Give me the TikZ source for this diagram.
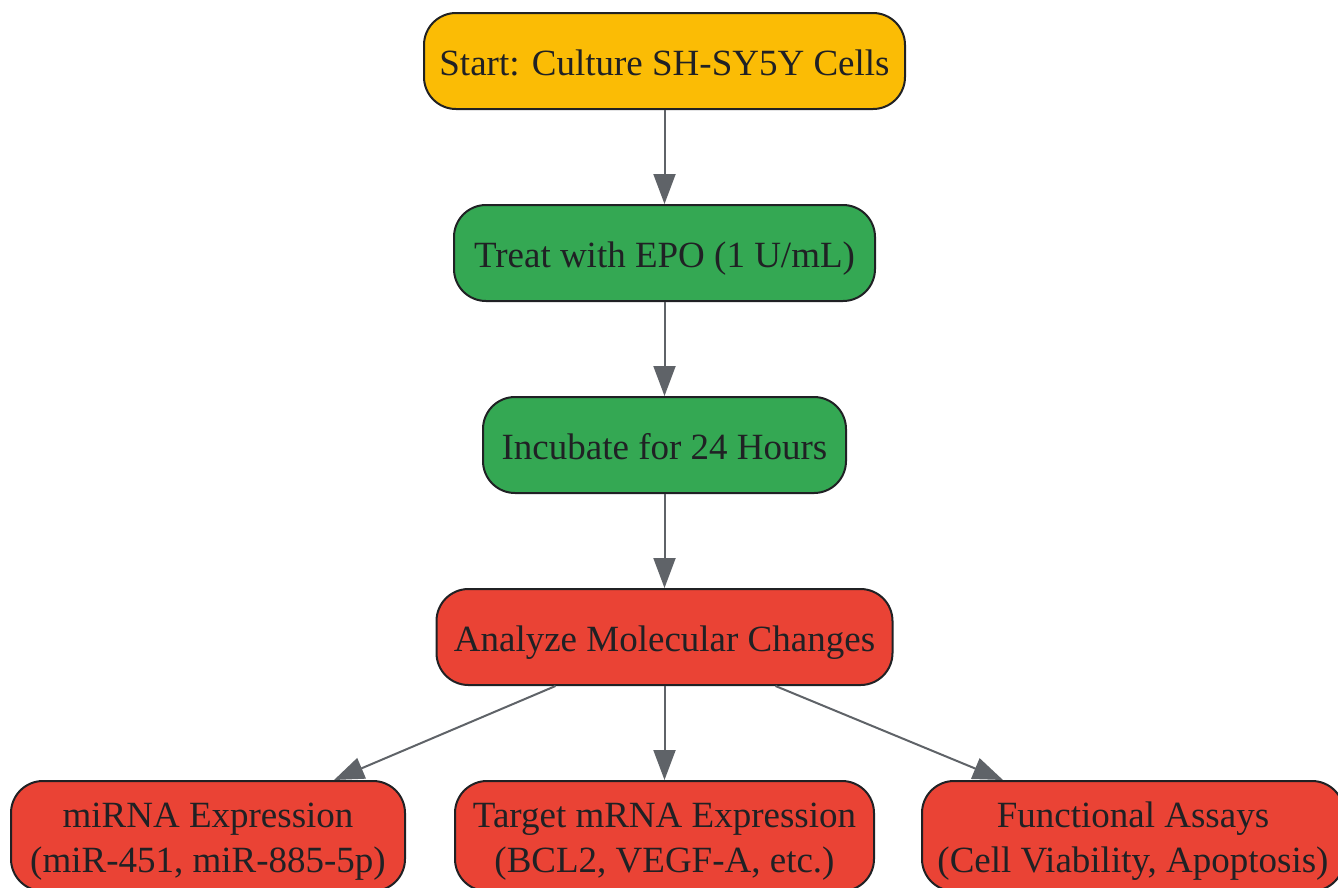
\documentclass[tikz,border=0pt]{standalone}
\usepackage{fontspec}
\setmainfont{Liberation Serif}
\usetikzlibrary{arrows.meta,calc}
\definecolor{yel}{HTML}{FBBC05}
\definecolor{grn}{HTML}{34A853}
\definecolor{rd}{HTML}{EA4335}
\definecolor{ink}{HTML}{202124}
\definecolor{edge}{HTML}{5F6368}
\newcommand\tline[1]{\raisebox{0pt}[30pt][2pt]{#1}}
\begin{document}
\begin{tikzpicture}[x=1pt,y=-1pt,
  box/.style={draw=ink, line width=2pt, rounded corners=32pt, align=center, text=ink,
    font=\fontsize{37}{45}\selectfont, inner sep=0pt, minimum height=96pt},
  arr/.style={draw=edge, line width=2pt, -{Triangle[length=30pt,width=22pt]}}]
\useasboundingbox (0,0) rectangle (1338,887);
\node[box, fill=yel, minimum width=481pt] (st) at (664.5,61) {\tline{Start: Culture SH-SY5Y Cells}};
\node[box, fill=grn, minimum width=421pt] (tr) at (664.5,253) {\tline{Treat with EPO (1 U/mL)}};
\node[box, fill=grn, minimum width=363pt] (in) at (664.5,445) {\tline{Incubate for 24 Hours}};
\node[box, fill=rd, minimum width=456pt] (an) at (664.5,637) {\tline{Analyze Molecular Changes}};
\node[box, fill=rd, minimum width=394pt, minimum height=110pt] (mi) at (208,836) {\tline{miRNA Expression}\\\tline{(miR-451, miR-885-5p)}};
\node[box, fill=rd, minimum width=419pt, minimum height=110pt] (tg) at (664.5,836) {\tline{Target mRNA Expression}\\\tline{(BCL2, VEGF-A, etc.)}};
\node[box, fill=rd, minimum width=422pt, minimum height=110pt] (fa) at (1133,836) {\tline{Functional Assays}\\\tline{(Cell Viability, Apoptosis)}};
\draw[arr] (st.south) -- (tr.north);
\draw[arr] (tr.south) -- (in.north);
\draw[arr] (in.south) -- (an.north);
\draw[arr] (an.south) -- (tg.north);
\draw[arr] ($(an.south)+(-109,0)$) -- ($(mi.north)+(126,0)$);
\draw[arr] ($(an.south)+(111,0)$) -- ($(fa.north)+(-130,0)$);
\end{tikzpicture}
\end{document}
